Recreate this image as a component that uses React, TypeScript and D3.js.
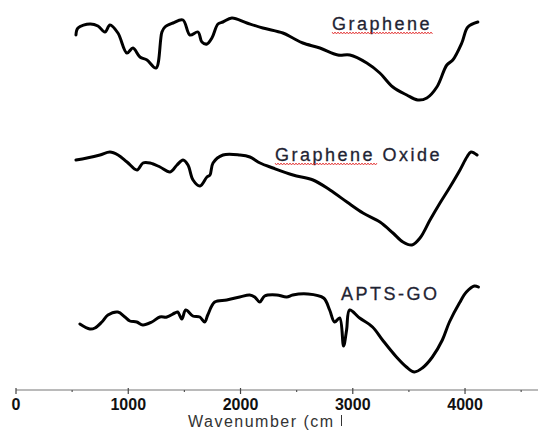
import React from 'react';
import * as d3 from 'd3';

// wavenumber (cm-1) / transmittance (a.u.)
const grapheneWn = [534, 552, 659, 730, 792, 837, 908, 988, 1042, 1104, 1167, 1247, 1300, 1327, 1398, 1487, 1549, 1621, 1656, 1701, 1745, 1799, 1843, 1923, 2057, 2199, 2377, 2466, 2555, 2707, 2867, 2974, 3125, 3241, 3357, 3481, 3579, 3660, 3749, 3838, 3891, 3971, 4025, 4114];
const grapheneT = [365, 372, 376, 374, 368, 375, 367, 347, 352, 343, 340, 332, 368, 373, 377, 380, 365, 368, 358, 356, 362, 376, 378, 382, 377, 372, 367, 362, 357, 352, 345, 345, 337, 327, 313, 305, 300, 302, 313, 335, 340, 357, 373, 378];

const oxideWn = [534, 632, 748, 837, 909, 989, 1078, 1131, 1194, 1283, 1372, 1434, 1488, 1532, 1577, 1639, 1701, 1728, 1755, 1844, 1995, 2084, 2174, 2289, 2468, 2646, 2797, 2948, 3091, 3242, 3358, 3447, 3527, 3599, 3688, 3777, 3866, 3955, 4017, 4053, 4107];
const oxideT = [240, 242, 245, 248, 245, 238, 230, 237, 237, 233, 228, 235, 240, 235, 220, 214, 223, 225, 237, 245, 245, 243, 237, 232, 225, 220, 210, 198, 187, 178, 167, 158, 155, 162, 180, 197, 213, 230, 243, 248, 245];

const aptsWn = [569, 658, 703, 765, 819, 907, 970, 1014, 1076, 1130, 1210, 1281, 1344, 1415, 1441, 1477, 1512, 1575, 1637, 1681, 1708, 1770, 1877, 1993, 2082, 2126, 2171, 2215, 2322, 2411, 2465, 2598, 2740, 2794, 2838, 2883, 2918, 2945, 2972, 3061, 3176, 3265, 3389, 3478, 3549, 3620, 3709, 3798, 3861, 3950, 4012, 4083, 4119];
const aptsT = [76, 71, 72, 78, 85, 88, 83, 79, 78, 75, 78, 83, 83, 87, 88, 81, 90, 84, 83, 78, 85, 98, 100, 103, 105, 103, 98, 104, 105, 103, 105, 106, 102, 90, 78, 82, 54, 70, 90, 82, 73, 60, 43, 33, 28, 32, 43, 60, 78, 97, 108, 114, 113];

const seriesLabels = ['Graphene', 'Graphene Oxide', 'APTS-GO'];
const xTicks = [0, 1000, 2000, 3000, 4000];
const xMinorTicks = [500, 1500, 2500, 3500, 4500];

const W = 538;
const H = 435;

export default function App() {
  const x = d3.scaleLinear().domain([0, 4650]).range([16, 538]);
  const y = d3.scaleLinear().domain([0, 400]).range([400, 0]);

  const line = d3
    .line<[number, number]>()
    .x(d => x(d[0]))
    .y(d => y(d[1]))
    .curve(d3.curveCatmullRom.alpha(0.5));

  const series = [
    { wn: grapheneWn, t: grapheneT },
    { wn: oxideWn, t: oxideT },
    { wn: aptsWn, t: aptsT },
  ];

  // label placement (left x, baseline y)
  const labelPos = [
    [332, 30],
    [275, 161],
    [341, 300],
  ];

  // red spell-check squiggle under "Graphene"
  const squiggle = (x0: number, x1: number, yy: number) => {
    const pts = d3.range(x0, x1, 1.5).map((xx, i) => [xx, yy + (i % 2 ? 1 : -1)] as [number, number]);
    return d3.line()(pts) || '';
  };

  const axisY = 390;

  return (
    <svg
      width={W}
      height={H}
      style={{ position: 'absolute', left: 0, top: 0, background: '#fff', fontFamily: 'Liberation Sans, Arial, sans-serif' }}
    >
      <defs>
        <clipPath id="titleClip">
          <rect x={0} y={400} width={340} height={35} />
        </clipPath>
      </defs>
      {series.map((s, i) => (
        <path
          key={i}
          d={line(s.wn.map((w, j) => [w, s.t[j]] as [number, number])) || ''}
          fill="none"
          stroke="#000"
          strokeWidth={3}
          strokeLinejoin="round"
          strokeLinecap="round"
        />
      ))}

      {seriesLabels.map((lab, i) => (
        <text
          key={lab}
          x={labelPos[i][0]}
          y={labelPos[i][1]}
          fontSize={18}
          letterSpacing={2.5}
          fill="#1f2433"
          stroke="#1f2433"
          strokeWidth={0.3}
        >
          {lab}
        </text>
      ))}
      <path d={squiggle(332, 433, 33)} stroke="#e02020" strokeWidth={0.8} fill="none" />
      <path d={squiggle(275, 378, 164)} stroke="#e02020" strokeWidth={0.8} fill="none" />

      {/* x axis */}
      <line x1={x(0)} x2={W} y1={axisY} y2={axisY} stroke="#777" strokeWidth={1.2} />
      {xTicks.map(t => (
        <g key={t}>
          <line x1={x(t)} x2={x(t)} y1={axisY - 2} y2={axisY + 4} stroke="#444" strokeWidth={1.2} />
          <text
            x={x(t)}
            y={410}
            textAnchor="middle"
            fontSize={16}
            fontWeight="bold"
            fill="#111"
          >
            {t}
          </text>
        </g>
      ))}
      {xMinorTicks.map(t => (
        <line key={t} x1={x(t)} x2={x(t)} y1={axisY} y2={axisY + 2} stroke="#555" strokeWidth={1.2} />
      ))}
      <text x={188} y={427} fontSize={16} letterSpacing={1.5} fill="#333" clipPath="url(#titleClip)">
        Wavenumber (cm
      </text>
      <line x1={341.5} x2={341.5} y1={415} y2={426} stroke="#333" strokeWidth={1} />
    </svg>
  );
}
